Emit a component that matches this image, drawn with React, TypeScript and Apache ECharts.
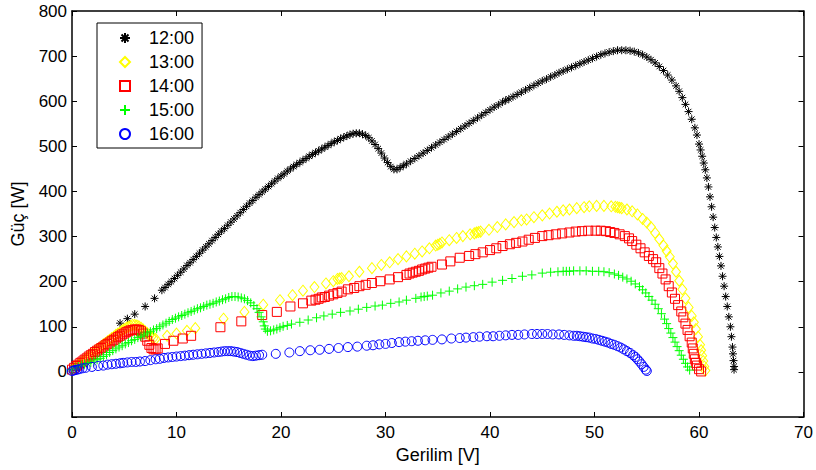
import React, { useEffect, useRef } from "react";
import * as echarts from "echarts";

const seriesNames = ["12:00", "13:00", "14:00", "15:00", "16:00"];

const data1200: number[][] = [
  [4.6,108],[5.3,118],[6.0,128],[7.0,145],[7.9,163],
  [8.6,181],[8.9,187],[9.2,194],[9.5,200],[9.8,207],[10.1,214],[10.4,221],[10.7,228],[11.0,236],[11.3,242],
  [11.6,249],[11.9,256],[12.2,263],[12.5,270],[12.8,277],[13.1,284],[13.4,291],[13.7,298],[14.0,305],[14.3,312],
  [14.6,318],[14.9,325],[15.2,332],[15.5,339],[15.8,346],[16.1,353],[16.4,360],[16.7,367],[17.0,374],[17.3,380],
  [17.6,387],[17.9,393],[18.2,399],[18.5,405],[18.8,411],[19.1,417],[19.4,423],[19.7,429],[20.0,434],[20.3,439],
  [20.6,445],[20.9,450],[21.2,455],[21.5,460],[21.8,464],[22.1,469],[22.4,473],[22.7,478],[23.0,482],[23.3,486],
  [23.6,490],[23.9,494],[24.2,498],[24.5,502],[24.8,506],[25.1,510],[25.4,513],[25.7,517],[26.0,520],[26.3,523],
  [26.6,526],[26.9,528],[27.2,529],[27.5,529],[27.8,527],[28.1,524],[28.4,519],[28.7,512],[29.0,504],[29.3,495],
  [29.6,485],[29.9,474],[30.2,464],[30.5,455],[30.8,449],[31.1,449],[31.4,453],[31.7,457],[32.0,461],[32.4,467],
  [32.8,473],[33.2,479],[33.6,485],[34.0,491],[34.4,497],[34.8,503],[35.2,509],[35.6,515],[36.0,521],[36.4,527],
  [36.8,533],[37.2,539],[37.6,545],[38.0,551],[38.4,557],[38.8,563],[39.2,569],[39.6,575],[40.0,581],[40.4,587],
  [40.8,592],[41.2,598],[41.5,602],[41.8,605],[42.2,610],[42.6,615],[43.0,620],[43.4,625],[43.8,630],[44.2,635],
  [44.6,640],[45.0,645],[45.4,649],[45.8,654],[46.2,658],[46.6,663],[47.0,667],[47.4,671],[47.8,675],[48.2,679],
  [48.6,683],[49.0,687],[49.4,691],[49.8,695],[50.2,699],[50.6,703],[51.0,706],[51.4,709],[51.8,711],[52.2,713],
  [52.6,713],[53.0,713],[53.4,712],[53.8,710],[54.2,707],[54.6,703],[55.0,698],[55.4,692],[55.8,685],[56.2,677],
  [56.6,668],[57.0,658],[57.4,647],[57.8,634],[58.1,622],[58.4,608],[58.7,593],[59.0,577],[59.3,560],[59.6,541],
  [59.8,525],[60.0,505],[60.15,492],[60.3,478],[60.45,463],[60.6,448],[60.75,430],[60.9,410],[61.05,388],
  [61.2,366],[61.35,343],[61.5,320],[61.65,298],[61.8,277],[61.95,256],[62.1,235],[62.25,212],[62.4,190],
  [62.55,167],[62.7,145],[62.85,122],[63.0,100],[63.1,78],[63.2,55],[63.25,40],[63.3,25],[63.35,12],[63.35,5]
];

const data1300: number[][] = [
  [0,4],[0.2,8],[0.4,12],[0.6,16],[0.8,19],[1.0,23],[1.2,27],[1.4,31],[1.6,35],[1.8,38],[2.0,42],[2.2,46],
  [2.4,50],[2.6,53],[2.8,57],[3.0,61],[3.2,64],[3.4,68],[3.6,71],[3.8,75],[4.0,78],[4.2,82],[4.4,85],[4.6,88],
  [4.8,92],[5.0,95],[5.2,98],[5.4,100],[5.6,102],[5.8,104],[6.0,104],[6.2,103],[6.4,101],[6.6,98],[6.8,94],
  [7.0,90],[7.2,86],[7.4,82],[7.6,78],[7.8,75],[8.0,73],
  [9.1,80],[10.0,85],[11.0,91],[11.8,97],[14.5,118],[16.5,133],[18.3,149],[19.9,159],[21.1,170],[22.1,180],
  [23.2,188],[24.3,196],[25.0,201],[25.4,206],[25.6,207],[25.8,208],[26.5,212],[27.5,222],[28.7,230],[29.6,237],
  [30.4,243],[31.2,250],[32.0,256],[32.8,262],[33.5,267],[34.2,274],[34.8,280],[35.0,282],[35.2,284],[35.4,287],
  [36.1,292],[36.8,297],[37.4,301],[38.1,305],[38.5,307],[38.7,309],[38.9,310],[39.1,311],[39.9,315],[40.7,321],
  [41.5,327],[42.3,332],[43.0,336],[43.5,338],[44.2,343],[45.0,347],[45.7,351],[46.4,355],[47.0,358],[47.6,360],
  [48.3,363],[49.0,365],[49.5,367],[50.2,368],[50.9,368],[51.6,367],[52.0,366],[52.2,365],[52.4,364],[52.6,363],
  [53.1,360],[53.6,356],[54.1,349],[54.6,339],[55.0,331],[55.4,321],[55.8,308],[56.2,294],[56.6,280],[56.9,268],
  [57.2,255],[57.5,240],[57.8,222],[58.1,202],[58.4,183],[58.7,163],[59.0,143],[59.3,124],[59.5,110],[59.7,95],
  [59.9,78],[60.1,60],[60.2,48],[60.3,36],[60.4,24],[60.5,12],[60.6,3]
];

const data1400: number[][] = [
  [0,5],[0.2,9],[0.4,13],[0.6,16],[0.8,20],[1.0,23],[1.2,27],[1.4,30],[1.6,34],[1.8,37],[2.0,40],[2.2,44],
  [2.4,47],[2.6,50],[2.8,53],[3.0,56],[3.2,59],[3.4,62],[3.6,65],[3.8,68],[4.0,71],[4.2,74],[4.4,77],[4.6,80],
  [4.8,83],[5.0,85],[5.2,88],[5.4,90],[5.6,92],[5.8,93],[6.0,94],[6.2,94],[6.4,93],[6.6,90],[6.8,85],[7.0,78],
  [7.2,69],[7.4,60],[7.6,53],[7.8,50],[8.0,50],[8.2,52],
  [8.9,62],[9.7,69],[10.6,74],[11.4,80],[14.2,99],[16.2,112],[18.2,126],[19.6,133],[20.9,145],[22.1,152],
  [22.9,158],[23.3,160],[23.6,162],[23.9,165],[24.2,166],[24.6,169],[25.0,172],[25.4,175],[25.8,178],[26.4,183],
  [27.0,186],[27.5,190],[28.1,193],[28.7,197],[29.5,201],[30.4,205],[31.2,210],[32.0,215],[32.3,218],[32.6,220],
  [32.9,222],[33.2,224],[33.5,227],[33.8,229],[34.1,231],[34.4,233],[35.4,238],[36.2,245],[37.1,253],[38.0,257],
  [38.6,261],[39.3,265],[40.0,270],[40.6,274],[41.2,279],[41.9,283],[42.5,286],[43.1,289],[43.7,293],[44.3,297],
  [45.0,301],[45.6,303],[46.3,305],[46.9,307],[47.6,309],[48.2,311],[48.8,312],[49.4,313],[50.1,313],[50.6,313],
  [51.1,312],[51.5,310],[51.9,308],[52.4,305],[52.9,301],[53.3,296],[53.6,290],[54.0,282],[54.4,274],[54.8,265],
  [55.2,257],[55.6,250],[55.9,243],[56.2,230],[56.5,218],[56.8,205],[57.1,190],[57.4,176],[57.7,162],[58.0,148],
  [58.3,134],[58.5,121],[58.7,107],[58.9,93],[59.1,79],[59.3,65],[59.4,52],[59.5,40],[59.6,28],[59.7,20],
  [59.8,14],[60.0,6],[60.2,1]
];

const data1500: number[][] = [
  [0,5],[0.3,9],[0.6,12],[0.9,15],[1.2,17],[1.5,19],[1.8,21],[2.1,24],[2.4,27],[2.7,30],[3.0,34],[3.3,38],
  [3.6,43],[3.9,47],[4.2,51],[4.5,55],[4.8,58],[5.1,62],[5.4,65],[5.7,69],[6.0,72],[6.3,76],[6.6,79],[6.9,82],
  [7.2,86],[7.5,89],[7.8,93],[8.1,96],[8.4,100],[8.7,104],[9.0,108],[9.3,112],[9.6,116],[9.9,119],[10.2,122],
  [10.5,125],[10.8,128],[11.1,131],[11.4,134],[11.7,137],[12.0,140],[12.3,142],[12.6,145],[12.9,148],[13.2,150],
  [13.5,152],[13.8,155],[14.1,157],[14.4,160],[14.7,162],[15.0,165],[15.3,167],[15.6,167],[15.9,166],[16.2,164],
  [16.5,162],[16.8,158],[17.1,153],[17.4,147],[17.7,140],[17.9,132],[18.1,122],[18.3,111],[18.4,102],[18.5,95],
  [18.7,90],[19.0,91],[19.3,93],[19.6,95],[19.9,98],[20.2,101],[20.6,103],[21.0,106],[21.8,110],[22.6,115],
  [23.4,120],[24.1,124],[24.9,128],[25.7,132],[26.6,135],[27.4,139],[28.2,143],[29.0,146],[29.7,148],[30.5,152],
  [31.3,155],[32.0,159],[32.9,163],[33.4,166],[33.7,167],[34.0,168],[34.5,170],[35.3,175],[36.1,179],[36.9,184],
  [37.7,188],[38.5,191],[39.3,194],[40.2,199],[41.2,203],[42.1,207],[43.1,212],[44.0,215],[45.0,219],[45.8,221],
  [46.5,222],[47.0,223],[47.3,223],[47.6,223],[48.0,224],[48.6,224],[49.2,224],[49.8,223],[50.4,223],[50.9,222],
  [51.4,220],[51.9,217],[52.3,214],[52.7,210],[53.1,206],[53.5,201],[53.9,195],[54.3,189],[54.6,182],[54.9,175],
  [55.2,167],[55.5,159],[55.8,150],[56.1,140],[56.4,129],[56.7,117],[56.9,107],[57.1,96],[57.3,86],[57.5,76],
  [57.7,66],[57.9,56],[58.1,47],[58.3,37],[58.5,28],[58.7,19],[58.9,11],[59.1,4]
];

const data1600: number[][] = [
  [0,2],[0.15,3],[0.3,4],[0.5,5],[0.7,6],[1.0,8],[1.3,9],[1.9,11],[2.5,13],[3.0,14],[3.4,16],[3.8,17],
  [4.2,18],[4.6,19],[4.9,20],[5.3,21],[5.7,22],[6.1,22],[6.5,23],[7.0,24],[7.5,26],[8.0,28],[8.4,29],[8.8,31],
  [9.2,32],[9.6,33],[10.0,34],[10.4,35],[10.8,36],[11.2,37],[11.6,38],[12.0,39],[12.4,40],[12.8,41],[13.2,42],
  [13.6,43],[14.0,44],[14.3,45],[14.6,46],[14.9,46],[15.2,46],[15.5,45],[15.8,44],[16.1,42],[16.4,40],[16.7,38],
  [17.0,36],[17.3,35],[17.6,36],[17.9,37],[18.2,38],[19.5,40],[20.8,43],[21.8,46],[22.8,48],[23.7,49],[24.6,51],
  [25.5,53],[26.4,55],[27.3,56],[28.2,58],[28.8,59],[29.4,61],[30.0,62],[30.6,64],[31.3,66],[31.9,67],[32.5,68],
  [33.1,69],[33.8,70],[34.5,71],[35.4,72],[36.3,74],[37.1,75],[37.7,76],[38.4,77],[39.0,78],[39.7,79],[40.3,79],
  [40.9,80],[41.5,81],[42.1,82],[42.7,82],[43.3,83],[44.0,84],[44.5,84],[45.0,84],[45.5,84],[46.0,83],[46.6,83],
  [47.1,82],[47.6,81],[48.0,80],[48.3,80],[48.6,79],[48.9,78],[49.2,77],[49.5,76],[49.8,74],[50.1,73],[50.4,71],
  [50.7,69],[51.0,67],[51.3,65],[51.6,62],[51.9,60],[52.2,57],[52.5,54],[52.8,50],[53.1,46],[53.4,42],[53.7,37],
  [53.9,33],[54.1,28],[54.3,23],[54.5,17],[54.7,11],[54.9,5],[55.0,2]
];

const seriesData = [data1200, data1300, data1400, data1500, data1600];
const seriesColors = ["#000000", "#FFFF00", "#FF0000", "#00FF00", "#0000FF"];
const seriesSymbols = [
  "path://M5,0L5,10M0,5L10,5M1.5,1.5L8.5,8.5M1.5,8.5L8.5,1.5",
  "diamond",
  "rect",
  "path://M5,0L5,10M0,5L10,5",
  "circle",
];
const seriesSizes: any[] = [8, [9, 11], 9, 9, 9];

const FONT = "'Liberation Sans', Arial, sans-serif";

export default function App() {
  const ref = useRef<HTMLDivElement>(null);
  useEffect(() => {
    if (!ref.current) return;
    const chart = echarts.init(ref.current, undefined, { renderer: "svg" });
    const axisLine = { show: true, onZero: false, lineStyle: { color: "#000", width: 1.5 } };
    const tick = { show: true, inside: true, length: 5, lineStyle: { color: "#000", width: 1 } };
    chart.setOption({
      animation: false,
      backgroundColor: "#fff",
      textStyle: { fontFamily: FONT },
      grid: { left: 72, right: 11, top: 11, bottom: 53, containLabel: false },
      legend: {
        orient: "vertical",
        left: 97,
        top: 23,
        padding: [6, 8, 5, 22],
        itemGap: 6,
        itemWidth: 10,
        itemHeight: 10,
        borderColor: "#000",
        borderWidth: 1,
        backgroundColor: "#fff",
        textStyle: { fontFamily: FONT, fontSize: 18, color: "#000", padding: [0, 0, 0, 14] },
        data: seriesNames,
      },
      xAxis: [
        {
          type: "value", min: 0, max: 70, interval: 10,
          name: "Gerilim [V]", nameLocation: "middle", nameGap: 27,
          nameTextStyle: { fontFamily: FONT, fontSize: 18, color: "#000" },
          axisLine, axisTick: tick, splitLine: { show: false },
          axisLabel: { fontFamily: FONT, fontSize: 17, color: "#000", margin: 7 },
        },
        {
          type: "value", position: "top", min: 0, max: 70, interval: 10,
          axisLine, axisTick: tick, splitLine: { show: false }, axisLabel: { show: false },
        },
      ],
      yAxis: [
        {
          type: "value", min: -100, max: 800, interval: 100,
          name: "Güç [W]", nameLocation: "middle", nameGap: 45,
          nameTextStyle: { fontFamily: FONT, fontSize: 18, color: "#000" },
          axisLine, axisTick: tick, splitLine: { show: false },
          axisLabel: {
            fontFamily: FONT, fontSize: 17, color: "#000", margin: 5,
            formatter: (v: number) => (v === -100 ? "" : String(v)),
          },
        },
        {
          type: "value", position: "right", min: -100, max: 800, interval: 100,
          axisLine, axisTick: tick, splitLine: { show: false }, axisLabel: { show: false },
        },
      ],
      series: seriesNames.map((name, i) => ({
        name,
        type: "scatter",
        xAxisIndex: 0,
        yAxisIndex: 0,
        symbol: seriesSymbols[i],
        symbolSize: seriesSizes[i],
        itemStyle: { color: "transparent", borderColor: seriesColors[i], borderWidth: 1, opacity: 1 },
        emphasis: { disabled: true },
        data: seriesData[i],
      })),
    });
    return () => chart.dispose();
  }, []);
  return <div ref={ref} style={{ width: 816, height: 470, position: "absolute", left: 0, top: 0 }} />;
}
